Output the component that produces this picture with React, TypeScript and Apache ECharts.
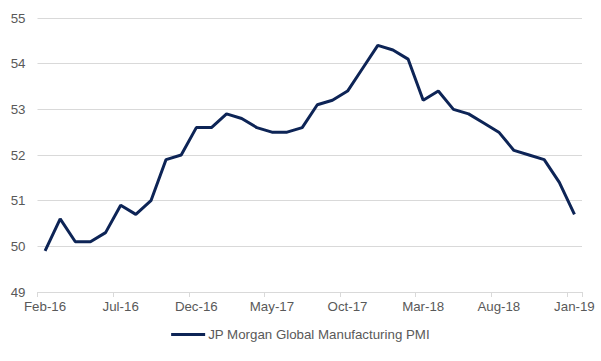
import React, { useEffect, useRef } from "react";
import * as echarts from "echarts";

const months = [
  "Feb-16", "Mar-16", "Apr-16", "May-16", "Jun-16", "Jul-16", "Aug-16", "Sep-16", "Oct-16", "Nov-16", "Dec-16",
  "Jan-17", "Feb-17", "Mar-17", "Apr-17", "May-17", "Jun-17", "Jul-17", "Aug-17", "Sep-17", "Oct-17", "Nov-17", "Dec-17",
  "Jan-18", "Feb-18", "Mar-18", "Apr-18", "May-18", "Jun-18", "Jul-18", "Aug-18", "Sep-18", "Oct-18", "Nov-18", "Dec-18",
  "Jan-19",
];

const pmi = [
  49.9, 50.6, 50.1, 50.1, 50.3, 50.9, 50.7, 51.0, 51.9, 52.0, 52.6,
  52.6, 52.9, 52.8, 52.6, 52.5, 52.5, 52.6, 53.1, 53.2, 53.4, 53.9, 54.4,
  54.3, 54.1, 53.2, 53.4, 53.0, 52.9, 52.7, 52.5, 52.1, 52.0, 51.9, 51.4,
  50.7,
];

const seriesName = "JP Morgan Global Manufacturing PMI";
const FONT = "'Liberation Sans', Arial, sans-serif";
const FS = 13.3;

export default function App() {
  const ref = useRef<HTMLDivElement>(null);
  useEffect(() => {
    if (!ref.current) return;
    const chart = echarts.init(ref.current, undefined, { renderer: "svg" });
    chart.setOption({
      animation: false,
      backgroundColor: "#ffffff",
      textStyle: { fontFamily: FONT },
      grid: { left: 37.5, right: 19, top: 18, bottom: 69, containLabel: false },
      legend: {
        bottom: 15,
        left: "center",
        icon: "rect",
        itemWidth: 34,
        itemHeight: 3,
        itemGap: 10,
        textStyle: { color: "#595959", fontSize: FS, fontFamily: FONT, padding: [0, 0, 0, -2] },
        data: [seriesName],
      },
      xAxis: {
        type: "category",
        data: months,
        boundaryGap: true,
        axisLine: { lineStyle: { color: "#d9d9d9", width: 1 } },
        axisTick: { show: true, interval: 4, length: 5, lineStyle: { color: "#d9d9d9" } },
        axisLabel: { interval: 4, color: "#595959", fontSize: FS, margin: 8, fontFamily: FONT },
        splitLine: { show: false },
      },
      yAxis: {
        type: "value",
        min: 49,
        max: 55,
        interval: 1,
        axisLine: { show: false },
        axisTick: { show: false },
        axisLabel: { color: "#595959", fontSize: FS, margin: 12, fontFamily: FONT },
        splitLine: { lineStyle: { color: "#d9d9d9", width: 1 } },
      },
      series: [
        {
          name: seriesName,
          type: "line",
          data: pmi,
          symbol: "none",
          lineStyle: { color: "#0d2456", width: 3 },
          itemStyle: { color: "#0d2456" },
        },
      ],
    });
    return () => chart.dispose();
  }, []);
  return <div ref={ref} style={{ width: 601, height: 361, position: "absolute", left: 0, top: 0 }} />;
}
